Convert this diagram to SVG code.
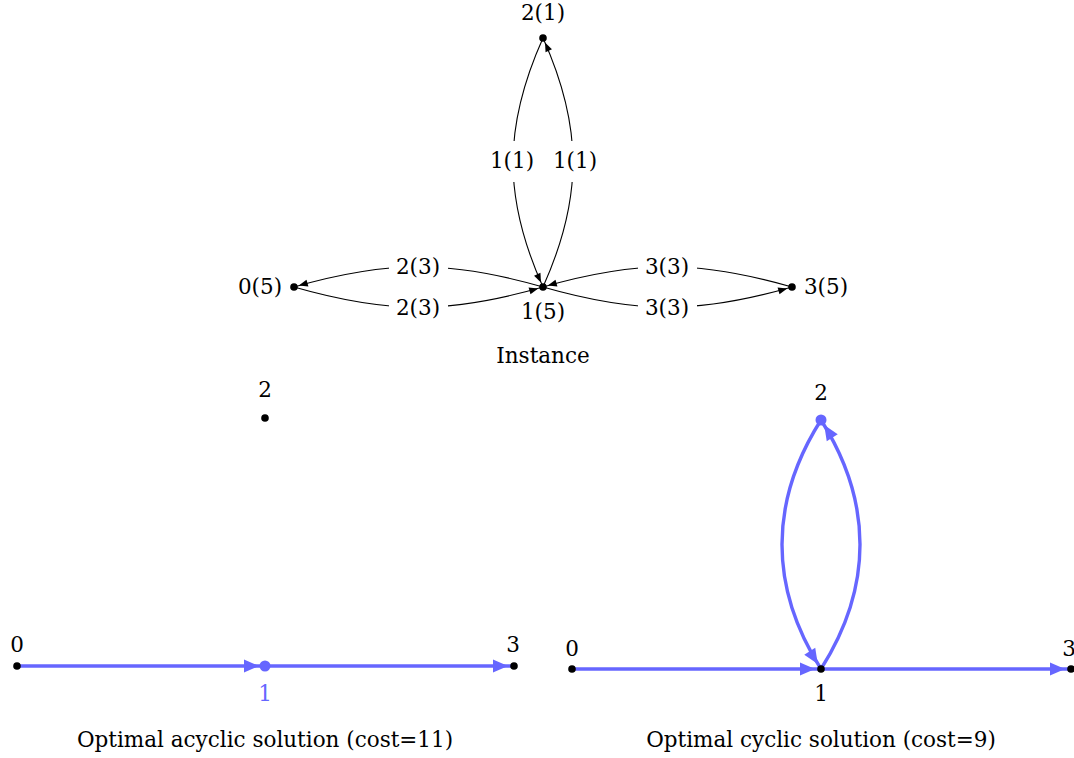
<svg xmlns="http://www.w3.org/2000/svg" width="1074" height="758" viewBox="0 0 1074 758">
<style>
text{font-family:"DejaVu Serif","Liberation Serif",serif;font-size:21.5px;fill:#000;text-anchor:middle}
.blue{fill:#6666ff}
.e{fill:none;stroke:#000;stroke-width:1.1}
.b{fill:none;stroke:#6666ff;stroke-width:3.4}
.d{fill:#000}
.bg{fill:#fff}
</style>
<defs>
<marker id="ak" markerUnits="userSpaceOnUse" markerWidth="10" markerHeight="8" viewBox="0 0 10 8" refX="14" refY="3.5" orient="auto" overflow="visible"><path d="M0,0 L9,3.5 L0,7 Z" fill="#000"/></marker>
<marker id="ab" markerUnits="userSpaceOnUse" markerWidth="15" markerHeight="13" viewBox="0 0 15 13" refX="21" refY="6.5" orient="auto" overflow="visible"><path d="M0,0 L15,6.5 L0,13 Z" fill="#6666ff"/></marker>
</defs>

<g id="connectors">
<path class="e" d="M543,38 C503,127 503,198 543,287" marker-end="url(#ak)"/>
<path class="e" d="M543,287 C583,198 583,127 543,38" marker-end="url(#ak)"/>
<path class="e" d="M543,287 C449,260 388,260 294,287" marker-end="url(#ak)"/>
<path class="e" d="M294,287 C388,314 449,314 543,287" marker-end="url(#ak)"/>
<path class="e" d="M792,287 C698,260 637,260 543,287" marker-end="url(#ak)"/>
<path class="e" d="M543,287 C637,314 698,314 792,287" marker-end="url(#ak)"/>
<path class="b" d="M17,666 L265,666" marker-end="url(#ab)"/>
<path class="b" d="M265,666 L514,666" marker-end="url(#ab)"/>
<path class="b" d="M821,420 C769,502 769,587 821,669" marker-end="url(#ab)"/>
<path class="b" d="M821,669 C873,587 873,502 821,420" marker-end="url(#ab)"/>
<path class="b" d="M572,669 L821,669" marker-end="url(#ab)"/>
<path class="b" d="M821,669 L1071,669" marker-end="url(#ab)"/>
</g>

<g id="edge-labels">
<rect class="bg" x="488" y="141" width="48" height="41"/><text x="512" y="168">1(1)</text>
<rect class="bg" x="551" y="141" width="48" height="41"/><text x="575" y="168">1(1)</text>
<rect class="bg" x="389" y="250" width="59" height="35"/><text x="418" y="274">2(3)</text>
<rect class="bg" x="389" y="291" width="59" height="35"/><text x="418" y="315">2(3)</text>
<rect class="bg" x="638" y="250" width="59" height="35"/><text x="667" y="274">3(3)</text>
<rect class="bg" x="638" y="291" width="59" height="35"/><text x="667" y="315">3(3)</text>
</g>

<g id="inst-n2"><circle class="d" cx="543" cy="38" r="3.8"/><text x="543" y="20">2(1)</text></g>
<g id="inst-n1"><circle class="d" cx="543" cy="287" r="3.8"/><text x="543" y="319">1(5)</text></g>
<g id="inst-n0"><circle class="d" cx="294" cy="287" r="3.8"/><text x="260" y="294">0(5)</text></g>
<g id="inst-n3"><circle class="d" cx="792" cy="287" r="3.8"/><text x="826" y="294">3(5)</text></g>
<g id="inst-caption"><text x="543" y="363">Instance</text></g>

<g id="acy-n2"><circle class="d" cx="265" cy="418" r="3.8"/><text x="265" y="397">2</text></g>
<g id="acy-n0"><circle class="d" cx="17" cy="666" r="3.8"/><text x="17" y="652">0</text></g>
<g id="acy-n1"><circle class="blue" cx="265" cy="666" r="5.5"/><text class="blue" x="265" y="701">1</text></g>
<g id="acy-n3"><circle class="d" cx="514" cy="666" r="3.8"/><text x="513" y="652">3</text></g>
<g id="acy-caption"><text x="265" y="747">Optimal acyclic solution (cost=11)</text></g>

<g id="cyc-n2"><circle class="blue" cx="821" cy="420" r="5.5"/><text x="821" y="400">2</text></g>
<g id="cyc-n0"><circle class="d" cx="572" cy="669" r="3.8"/><text x="572" y="656">0</text></g>
<g id="cyc-n1"><circle class="d" cx="821" cy="669" r="3.8"/><text x="821" y="701">1</text></g>
<g id="cyc-n3"><circle class="d" cx="1071" cy="669" r="3.8"/><text x="1069" y="656">3</text></g>
<g id="cyc-caption"><text x="821" y="747">Optimal cyclic solution (cost=9)</text></g>
</svg>
